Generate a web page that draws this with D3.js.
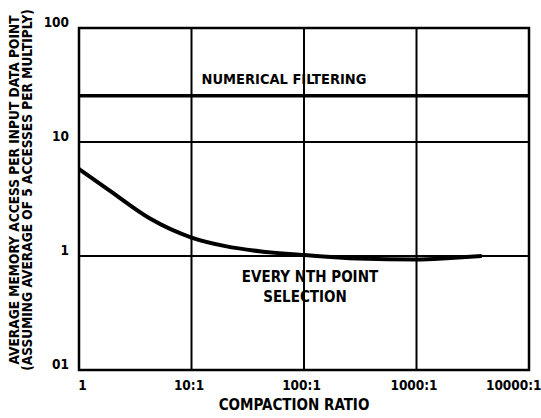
<!DOCTYPE html>
<html><head><meta charset="utf-8">
<script src="https://cdn.jsdelivr.net/npm/d3@7"></script>
<style>
body{margin:0;background:#fff;}
text{font-family:"Liberation Sans Narrow","DejaVu Sans Condensed","Liberation Sans",sans-serif;font-weight:bold;fill:#000;}
</style></head>
<body><svg id="c" width="541" height="418"></svg>
<script>
const xTicks = [1, 10, 100, 1000, 10000];
const xTickLabels = ["1", "10:1", "100:1", "1000:1", "10000:1"];
const yTicks = [0.1, 1, 10, 100];
const yTickLabels = ["01", "1", "10", "100"];
const filteringX = [1, 10000];
const filteringY = [25.5, 25.5];
const nthX = [1, 1.9, 4.2, 10, 20, 40, 100, 300, 1000, 2000, 3800];
const nthY = [5.8, 3.7, 2.15, 1.45, 1.22, 1.1, 1.02, 0.95, 0.93, 0.96, 1.0];

const svg = d3.select("#c");
const m = {l:79, r:529, t:28, b:370};
const x = d3.scaleLog().domain([1,10000]).range([m.l, m.r]);
const y = d3.scaleLog().domain([0.1,100]).range([m.b, m.t]);

// grid
svg.append("g").selectAll("line").data(xTicks.slice(1,-1)).join("line")
  .attr("x1", d=>x(d)).attr("x2", d=>x(d)).attr("y1", m.t).attr("y2", m.b)
  .attr("stroke","#000").attr("stroke-width",2);
svg.append("g").selectAll("line").data(yTicks.slice(1,-1)).join("line")
  .attr("x1", m.l).attr("x2", m.r).attr("y1", d=>y(d)).attr("y2", d=>y(d))
  .attr("stroke","#000").attr("stroke-width",2);
// frame
svg.append("rect").attr("x",m.l).attr("y",m.t).attr("width",m.r-m.l).attr("height",m.b-m.t)
  .attr("fill","none").attr("stroke","#000").attr("stroke-width",2.5);

// axes labels
const xAxis = d3.axisBottom(x).tickValues(xTicks).tickSize(0).tickPadding(10)
  .tickFormat((d,i)=>xTickLabels[i]);
const gx = svg.append("g").attr("transform",`translate(0,${m.b})`).call(xAxis);
gx.select(".domain").remove();
gx.selectAll("text").attr("font-size",13.5).style("font-family",null).attr("dx",-3);
gx.selectAll(".tick").filter((d,i)=>i===0).select("text").attr("dx",3);
gx.selectAll(".tick").filter((d,i)=>i===xTicks.length-1).select("text").attr("text-anchor","end").attr("dx",12);

const yAxis = d3.axisLeft(y).tickValues(yTicks).tickSize(0).tickPadding(10)
  .tickFormat((d,i)=>yTickLabels[i]);
const gy = svg.append("g").attr("transform",`translate(${m.l},0)`).call(yAxis);
gy.select(".domain").remove();
gy.selectAll("text").attr("font-size",13.5).style("font-family",null).attr("dy","-0.1em");

// series
const line = d3.line().x(d=>x(d[0])).y(d=>y(d[1])).curve(d3.curveMonotoneX);
svg.append("path").datum(filteringX.map((d,i)=>[d,filteringY[i]]))
  .attr("d", d3.line().x(d=>x(d[0])).y(d=>y(d[1])))
  .attr("stroke","#000").attr("stroke-width",3.5).attr("fill","none");
svg.append("path").datum(nthX.map((d,i)=>[d,nthY[i]]))
  .attr("d", line).attr("stroke","#000").attr("stroke-width",4).attr("fill","none");

// annotations
svg.append("text").attr("x",284).attr("y",84).attr("text-anchor","middle").attr("font-size",14.5).text("NUMERICAL FILTERING");
svg.append("text").attr("x",310).attr("y",282).attr("text-anchor","middle").attr("font-size",15).text("EVERY NTH POINT");
svg.append("text").attr("x",305).attr("y",302).attr("text-anchor","middle").attr("font-size",15).text("SELECTION");

svg.append("text").attr("x",294).attr("y",410).attr("text-anchor","middle").attr("font-size",15).text("COMPACTION RATIO");
const yl = svg.append("text").attr("transform","translate(19,190) rotate(-90)").attr("text-anchor","middle").attr("font-size",13.6);
yl.append("tspan").attr("x",0).attr("dy",0).text("AVERAGE MEMORY ACCESS PER INPUT DATA POINT");
yl.append("tspan").attr("x",0).attr("dy","0.95em").text("(ASSUMING AVERAGE OF 5 ACCESSES PER MULTIPLY)");
</script></body></html>
